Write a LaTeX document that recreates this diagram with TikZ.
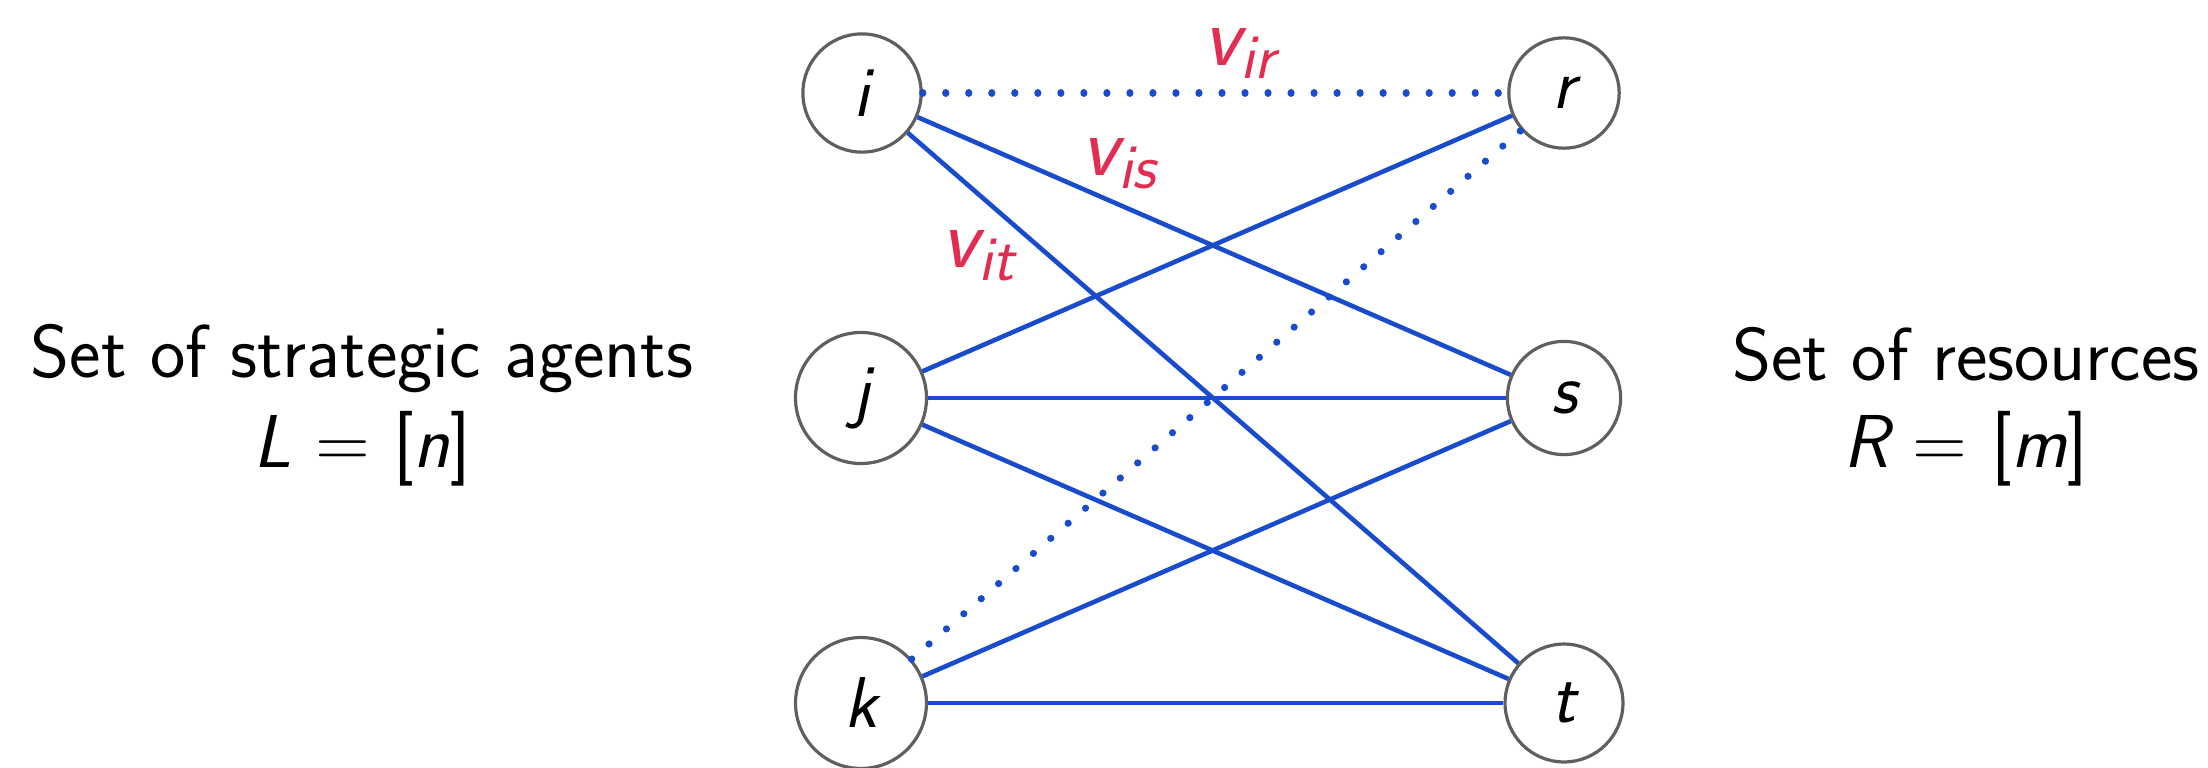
\documentclass[tikz,border=0pt]{standalone}
\usepackage{xcolor}
\definecolor{edgeblue}{RGB}{25,75,205}
\definecolor{labred}{RGB}{225,45,80}
\definecolor{ringgray}{RGB}{95,95,95}
\begin{document}
\begin{tikzpicture}[x=0.5pt,y=-0.5pt,
  vertex/.style={circle,draw=ringgray,line width=1.6pt,inner sep=12.7pt,
    font=\fontsize{36}{43}\selectfont\sffamily\slshape},
  edge/.style={draw=edgeblue,line width=2.3pt},
  dotedge/.style={draw=edgeblue,line width=3.6pt,line cap=round,dash pattern=on 0.01pt off 11.5pt},
  vlab/.style={text=labred,font=\fontsize{43}{50}\selectfont\sffamily\slshape,
    inner sep=0pt,anchor=base west},
  settext/.style={font=\fontsize{37.5}{45}\selectfont\sffamily,inner sep=0pt,anchor=base}]
\useasboundingbox (0,0) rectangle (2208,767);
\newcommand{\vsub}[1]{v\raisebox{-6.5pt}{\fontsize{32}{32}\selectfont #1}}
% vertices
\node[vertex] (i) at (862,93) {i};
\node[vertex] (j) at (861,398) {j};
\node[vertex] (k) at (861,703) {k};
\node[vertex] (r) at (1564,93) {r};
\node[vertex] (s) at (1564,398) {s};
\node[vertex] (t) at (1564,703) {t};
% edges
\draw[dotedge] (i) -- (r);
\draw[edge] (i) -- (s);
\draw[edge] (i) -- (t);
\draw[edge] (j) -- (r);
\draw[edge] (j) -- (s);
\draw[edge] (j) -- (t);
\draw[dotedge] (k) -- (r);
\draw[edge] (k) -- (s);
\draw[edge] (k) -- (t);
% edge labels
\node[vlab] (lir) at (1203,65) {\vsub{ir}};
\node[vlab] (lis) at (1081,175) {\vsub{is}};
\node[vlab] (lit) at (941,267) {\vsub{it}};
% side texts
\node[settext] (left1) at (362,377) {Set of strategic agents};
\node[settext] (left2) at (362,467) {{\slshape L} = [{\slshape n}]};
\node[settext] (right1) at (1966,380) {Set of resources};
\node[settext] (right2) at (1966,467) {{\slshape R} = [{\slshape m}]};
\end{tikzpicture}
\end{document}
